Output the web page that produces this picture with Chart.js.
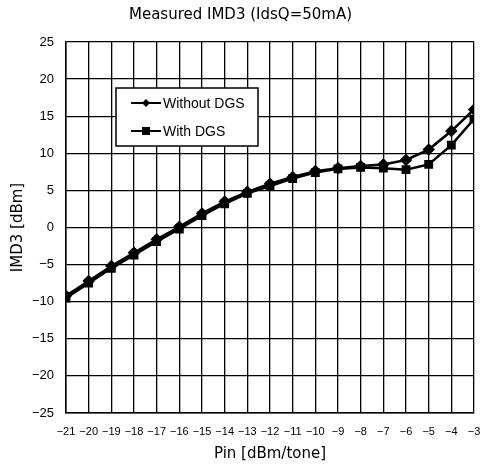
<!DOCTYPE html>
<html lang="en">
<head>
    <meta charset="UTF-8">
    <title>Measured IMD3</title>
    <script src="https://cdn.jsdelivr.net/npm/chart.js"></script>
    <style>
        html, body { margin: 0; padding: 0; background: #fff; }
        #wrap { width: 481px; height: 467px; }
    </style>
</head>
<body>
    <div id="wrap"><canvas id="imdChart" width="481" height="467"></canvas></div>
    <script>
        // data
        const pin = [-21, -20, -19, -18, -17, -16, -15, -14, -13, -12, -11, -10, -9, -8, -7, -6, -5, -4, -3];
        const withoutDGS = [-9.2, -7.2, -5.2, -3.4, -1.6, 0.1, 1.9, 3.5, 4.8, 5.9, 6.8, 7.6, 8.0, 8.3, 8.5, 9.1, 10.5, 13.0, 15.9];
        const withDGS = [-9.5, -7.5, -5.5, -3.7, -1.9, -0.2, 1.6, 3.2, 4.6, 5.6, 6.6, 7.4, 7.9, 8.1, 8.0, 7.8, 8.5, 11.1, 14.6];
        const seriesNames = ["Without DGS", "With DGS"];

        const font = "'Liberation Sans', Arial, sans-serif";
        const titleFont = "'DejaVu Sans', sans-serif";
        const minus = v => String(v).replace("-", "\u2212");

        // legend box drawn inside the plot, like the original figure
        const boxLegend = {
            id: "boxLegend",
            afterDraw(chart) {
                const ctx = chart.ctx;
                const a = chart.chartArea;
                const x = a.left + 50, y = a.top + 46, w = 142, h = 58;
                ctx.save();
                ctx.fillStyle = "#fff";
                ctx.fillRect(x, y, w, h);
                ctx.strokeStyle = "#000";
                ctx.lineWidth = 1.5;
                ctx.strokeRect(x, y, w, h);
                chart.data.datasets.forEach((ds, i) => {
                    const ly = y + 15 + i * 28;
                    ctx.strokeStyle = "#000";
                    ctx.lineWidth = 2;
                    ctx.beginPath();
                    ctx.moveTo(x + 15, ly);
                    ctx.lineTo(x + 45, ly);
                    ctx.stroke();
                    ctx.fillStyle = "#000";
                    if (ds.pointStyle === "rect") {
                        ctx.fillRect(x + 26, ly - 4, 8, 8);
                    } else {
                        ctx.beginPath();
                        ctx.moveTo(x + 30, ly - 4);
                        ctx.lineTo(x + 34, ly);
                        ctx.lineTo(x + 30, ly + 4);
                        ctx.lineTo(x + 26, ly);
                        ctx.closePath();
                        ctx.fill();
                    }
                    ctx.font = "14px " + font;
                    ctx.textBaseline = "middle";
                    ctx.fillText(ds.label, x + 47, ly + 1);
                });
                ctx.restore();
            }
        };

        const ctx = document.getElementById("imdChart").getContext("2d");
        new Chart(ctx, {
            type: "line",
            data: {
                datasets: [
                    {
                        label: seriesNames[0],
                        data: pin.map((p, i) => ({ x: p, y: withoutDGS[i] })),
                        borderColor: "#000",
                        backgroundColor: "#000",
                        borderWidth: 2.5,
                        pointStyle: "rectRot",
                        pointRadius: 4.5,
                        tension: 0
                    },
                    {
                        label: seriesNames[1],
                        data: pin.map((p, i) => ({ x: p, y: withDGS[i] })),
                        borderColor: "#000",
                        backgroundColor: "#000",
                        borderWidth: 2.5,
                        pointStyle: "rect",
                        pointRadius: 4.5,
                        tension: 0
                    }
                ]
            },
            options: {
                responsive: false,
                animation: false,
                layout: { padding: { left: 0, right: 0, top: 0, bottom: 0 } },
                plugins: {
                    legend: { display: false },
                    tooltip: { enabled: false },
                    title: {
                        display: true,
                        text: "Measured IMD3 (IdsQ=50mA)",
                        color: "#000",
                        font: { family: titleFont, size: 15, weight: "normal" },
                        padding: { top: 6, bottom: 18 }
                    }
                },
                scales: {
                    x: {
                        type: "linear",
                        min: -21,
                        max: -3,
                        afterFit: s => { s.height = 54; s.paddingRight = 6; },
                        ticks: {
                            stepSize: 1,
                            color: "#000",
                            font: { family: font, size: 11 },
                            maxRotation: 0,
                            autoSkip: false,
                            padding: 12,
                            callback: v => minus(v)
                        },
                        grid: { color: "#000", lineWidth: 1.3, drawTicks: false },
                        border: { color: "#000", width: 1.5 },
                        title: {
                            display: true,
                            text: "Pin [dBm/tone]",
                            color: "#000",
                            font: { family: titleFont, size: 15 },
                            padding: { top: 0 }
                        }
                    },
                    y: {
                        min: -25,
                        max: 25,
                        afterFit: s => { s.width = 66; },
                        ticks: {
                            stepSize: 5,
                            color: "#000",
                            font: { family: font, size: 13 },
                            padding: 12,
                            callback: v => minus(v)
                        },
                        grid: { color: "#000", lineWidth: 1.3, drawTicks: false },
                        border: { color: "#000", width: 1.5 },
                        title: {
                            display: true,
                            text: "IMD3 [dBm]",
                            color: "#000",
                            font: { family: titleFont, size: 15 },
                            padding: { top: 9, bottom: 4 }
                        }
                    }
                }
            },
            plugins: [boxLegend]
        });
    </script>
</body>
</html>
